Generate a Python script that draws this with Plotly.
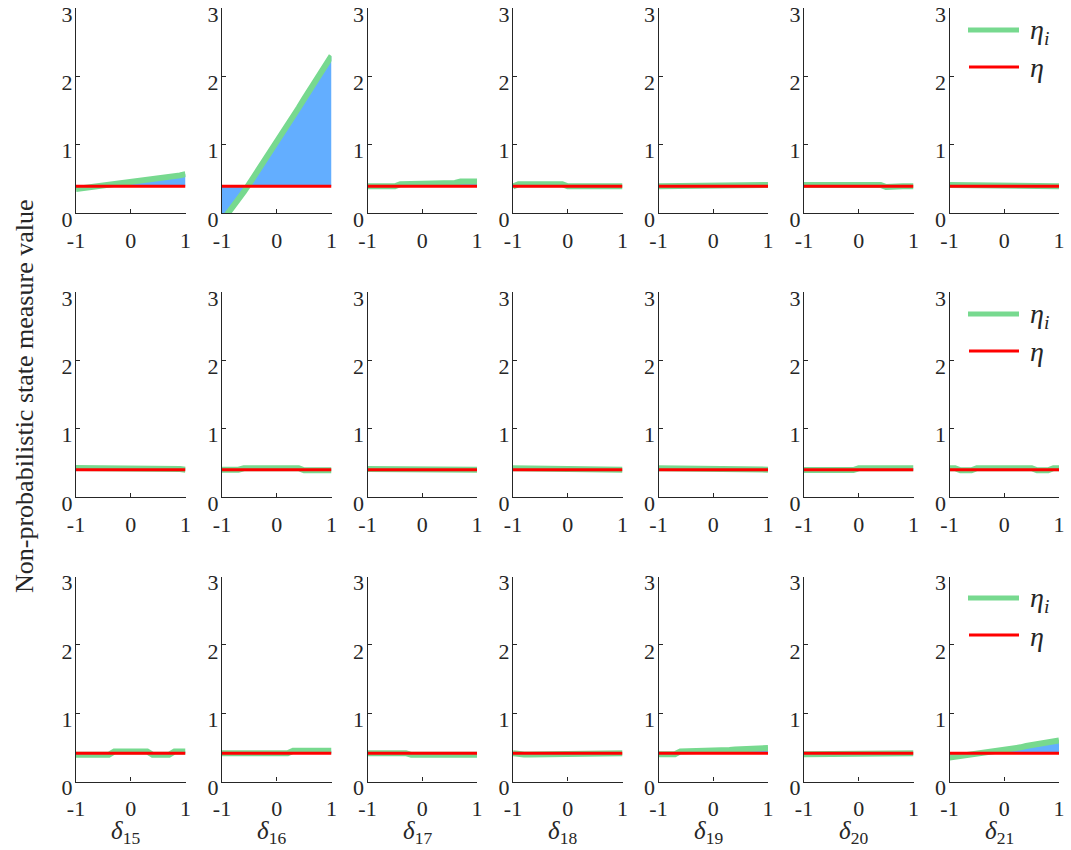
import plotly.graph_objects as go

# ---------------- data ----------------
delta = [-1.0, -0.9, -0.8, -0.7, -0.6, -0.5, -0.4, -0.3, -0.2, -0.1, 0.0,
         0.1, 0.2, 0.3, 0.4, 0.5, 0.6, 0.7, 0.8, 0.9, 1.0]
subscripts = ["15", "16", "17", "18", "19", "20", "21"]
eta_row = [0.39, 0.40, 0.415]
x_tick_vals = [-1, 0, 1]
x_tick_text = ["-1", "0", "1"]
y_tick_vals = [0, 1, 2, 3]

# row 1
r1_d15 = [0.35, 0.36, 0.37, 0.38, 0.39, 0.40, 0.41, 0.42, 0.43, 0.44, 0.45,
          0.45, 0.46, 0.47, 0.48, 0.49, 0.50, 0.51, 0.53, 0.55, 0.57]
r1_d16 = [-0.12, -0.02, 0.08, 0.19, 0.31, 0.43, 0.55, 0.67, 0.79, 0.91, 1.03,
          1.15, 1.28, 1.41, 1.54, 1.67, 1.80, 1.94, 2.08, 2.21, 2.30]
r1_d17 = [0.39, 0.39, 0.39, 0.39, 0.39, 0.39, 0.42, 0.42, 0.42, 0.42, 0.42,
          0.44, 0.44, 0.44, 0.44, 0.44, 0.44, 0.46, 0.46, 0.46, 0.46]
r1_d18 = [0.39, 0.42, 0.42, 0.42, 0.42, 0.42, 0.42, 0.42, 0.42, 0.42, 0.39,
          0.39, 0.39, 0.39, 0.39, 0.39, 0.39, 0.39, 0.39, 0.39, 0.39]
r1_d19 = [0.39, 0.39, 0.39, 0.39, 0.39, 0.39, 0.39, 0.39, 0.39, 0.39, 0.41,
          0.41, 0.41, 0.41, 0.41, 0.41, 0.41, 0.41, 0.41, 0.41, 0.41]
r1_d20 = [0.41, 0.41, 0.41, 0.41, 0.41, 0.41, 0.41, 0.41, 0.41, 0.41, 0.41,
          0.41, 0.41, 0.41, 0.41, 0.38, 0.39, 0.39, 0.39, 0.39, 0.39]
r1_d21 = [0.41, 0.41, 0.41, 0.41, 0.41, 0.41, 0.41, 0.39, 0.39, 0.39, 0.39,
          0.39, 0.39, 0.39, 0.39, 0.41, 0.41, 0.41, 0.39, 0.39, 0.39]

# row 2
r2_d15 = [0.425, 0.425, 0.425, 0.425, 0.425, 0.425, 0.425, 0.425, 0.425, 0.425, 0.425,
          0.425, 0.425, 0.425, 0.425, 0.425, 0.425, 0.425, 0.425, 0.41, 0.40]
r2_d16 = [0.40, 0.40, 0.39, 0.40, 0.42, 0.42, 0.42, 0.42, 0.42, 0.42, 0.42,
          0.42, 0.42, 0.42, 0.42, 0.39, 0.39, 0.39, 0.39, 0.39, 0.39]
r2_d17 = [0.41, 0.41, 0.41, 0.41, 0.41, 0.41, 0.41, 0.41, 0.41, 0.41, 0.41,
          0.41, 0.41, 0.41, 0.41, 0.41, 0.41, 0.39, 0.40, 0.39, 0.40]
r2_d18 = [0.42, 0.42, 0.42, 0.42, 0.42, 0.42, 0.40, 0.40, 0.40, 0.40, 0.40,
          0.40, 0.40, 0.40, 0.40, 0.40, 0.40, 0.40, 0.40, 0.40, 0.40]
r2_d19 = [0.42, 0.42, 0.42, 0.42, 0.42, 0.42, 0.42, 0.42, 0.42, 0.42, 0.42,
          0.42, 0.42, 0.42, 0.42, 0.42, 0.42, 0.42, 0.42, 0.40, 0.40]
r2_d20 = [0.395, 0.395, 0.395, 0.395, 0.395, 0.395, 0.395, 0.395, 0.395, 0.395, 0.42,
          0.42, 0.42, 0.42, 0.42, 0.42, 0.42, 0.42, 0.42, 0.42, 0.42]
r2_d21 = [0.42, 0.42, 0.39, 0.39, 0.39, 0.42, 0.42, 0.42, 0.42, 0.42, 0.42,
          0.42, 0.42, 0.42, 0.42, 0.42, 0.39, 0.39, 0.39, 0.42, 0.42]

# row 3
r3_d15 = [0.39, 0.39, 0.39, 0.39, 0.39, 0.39, 0.39, 0.44, 0.44, 0.44, 0.44,
          0.44, 0.44, 0.44, 0.39, 0.39, 0.39, 0.39, 0.44, 0.44, 0.44]
r3_d16 = [0.415, 0.415, 0.415, 0.415, 0.415, 0.415, 0.415, 0.415, 0.415, 0.415, 0.415,
          0.415, 0.415, 0.45, 0.45, 0.45, 0.45, 0.45, 0.45, 0.45, 0.45]
r3_d17 = [0.415, 0.415, 0.415, 0.415, 0.415, 0.415, 0.415, 0.415, 0.39, 0.39, 0.39,
          0.39, 0.40, 0.40, 0.40, 0.40, 0.40, 0.40, 0.39, 0.39, 0.39]
r3_d18 = [0.415, 0.395, 0.395, 0.395, 0.395, 0.395, 0.395, 0.395, 0.395, 0.395, 0.415,
          0.415, 0.415, 0.415, 0.415, 0.415, 0.415, 0.415, 0.415, 0.415, 0.415]
r3_d19 = [0.40, 0.40, 0.40, 0.40, 0.44, 0.44, 0.44, 0.44, 0.44, 0.44, 0.46,
          0.46, 0.46, 0.46, 0.47, 0.47, 0.47, 0.47, 0.49, 0.49, 0.49]
r3_d20 = [0.40, 0.40, 0.40, 0.40, 0.40, 0.415, 0.415, 0.415, 0.415, 0.415, 0.415,
          0.415, 0.415, 0.415, 0.415, 0.415, 0.415, 0.415, 0.415, 0.415, 0.415]
r3_d21 = [0.35, 0.36, 0.37, 0.38, 0.40, 0.41, 0.42, 0.43, 0.44, 0.46, 0.47,
          0.48, 0.49, 0.50, 0.52, 0.53, 0.54, 0.55, 0.57, 0.58, 0.60]

rows = [
    [r1_d15, r1_d16, r1_d17, r1_d18, r1_d19, r1_d20, r1_d21],
    [r2_d15, r2_d16, r2_d17, r2_d18, r2_d19, r2_d20, r2_d21],
    [r3_d15, r3_d16, r3_d17, r3_d18, r3_d19, r3_d20, r3_d21],
]

# ---------------- style / layout ----------------
W, H = 1071, 850
GREEN = "#77D98F"
RED = "#FF0000"
BLUE = "#63AEFF"
AXC = "#262626"
FONT = "Times New Roman"

col_left = [76, 222, 367.5, 513, 658.5, 804, 949.5]
col_w = 109.5
row_top = [8, 292, 576.5]
row_h = 205

fig = go.Figure()
layout = dict(
    width=W, height=H,
    margin=dict(l=0, r=0, t=0, b=0, pad=0, autoexpand=False),
    paper_bgcolor="white", plot_bgcolor="white",
    showlegend=False,
    font=dict(family=FONT, color=AXC),
)
annotations = []
shapes = []

for r in range(3):
    eta = eta_row[r]
    for c in range(7):
        n = r * 7 + c + 1
        xa = "x" if n == 1 else f"x{n}"
        ya = "y" if n == 1 else f"y{n}"
        vals = rows[r][c]
        # fill between eta_i and eta
        fig.add_trace(go.Scatter(x=[delta[0], delta[-1]], y=[eta, eta], mode="lines",
                                 line=dict(width=0, color=RED), xaxis=xa, yaxis=ya,
                                 hoverinfo="skip"))
        fig.add_trace(go.Scatter(x=delta, y=vals, mode="lines", fill="tonexty",
                                 fillcolor=BLUE, line=dict(width=0, color=BLUE),
                                 xaxis=xa, yaxis=ya, hoverinfo="skip"))
        fig.add_trace(go.Scatter(x=delta, y=vals, mode="lines", name="η_i",
                                 line=dict(width=6, color=GREEN), xaxis=xa, yaxis=ya))
        fig.add_trace(go.Scatter(x=[delta[0], delta[-1]], y=[eta, eta], mode="lines",
                                 name="η", line=dict(width=3, color=RED),
                                 xaxis=xa, yaxis=ya))

        x0 = col_left[c] / W
        x1 = (col_left[c] + col_w) / W
        y1 = (H - row_top[r]) / H
        y0 = (H - row_top[r] - row_h) / H
        xk = "xaxis" if n == 1 else f"xaxis{n}"
        yk = "yaxis" if n == 1 else f"yaxis{n}"
        layout[xk] = dict(domain=[x0, x1], anchor=ya, range=[-1, 1],
                          showline=True, linecolor=AXC, linewidth=1.2,
                          ticks="inside", ticklen=4, tickcolor=AXC, tickwidth=1,
                          tickmode="array", tickvals=x_tick_vals, ticktext=x_tick_text,
                          tickfont=dict(family=FONT, size=22, color=AXC),
                          ticklabelstandoff=7, ticklabeloverflow="allow",
                          showgrid=False, zeroline=False, fixedrange=True)
        layout[yk] = dict(domain=[y0, y1], anchor=xa, range=[0, 3],
                          showline=True, linecolor=AXC, linewidth=1.2,
                          ticks="inside", ticklen=4, tickcolor=AXC, tickwidth=1,
                          tickmode="array", tickvals=y_tick_vals,
                          tickfont=dict(family=FONT, size=22, color=AXC),
                          ticklabelshift=6, ticklabelstandoff=-2,
                          ticklabeloverflow="allow",
                          showgrid=False, zeroline=False, fixedrange=True)

        if r == 2:
            annotations.append(dict(
                text=f"<i>δ</i><sub>{subscripts[c]}</sub>",
                x=(col_left[c] + col_w / 2 - 5) / W, y=(H - 832) / H,
                xref="paper", yref="paper", xanchor="center", yanchor="middle",
                showarrow=False, font=dict(family=FONT, size=25, color=AXC)))

    # legend drawn in the last column of each row
    ly_g = 30 + r * 284
    ly_r = 67 + r * 284
    shapes.append(dict(type="line", xref="paper", yref="paper",
                       x0=968 / W, x1=1019 / W, y0=(H - ly_g) / H, y1=(H - ly_g) / H,
                       line=dict(color=GREEN, width=5)))
    shapes.append(dict(type="line", xref="paper", yref="paper",
                       x0=969 / W, x1=1019 / W, y0=(H - ly_r) / H, y1=(H - ly_r) / H,
                       line=dict(color=RED, width=3)))
    annotations.append(dict(text="<i>η</i><sub><i>i</i></sub>", x=1028 / W, y=(H - ly_g - 1) / H,
                            xref="paper", yref="paper", xanchor="left", yanchor="middle",
                            showarrow=False, font=dict(family=FONT, size=28, color=AXC)))
    annotations.append(dict(text="<i>η</i>", x=1028 / W, y=(H - ly_r - 1) / H,
                            xref="paper", yref="paper", xanchor="left", yanchor="middle",
                            showarrow=False, font=dict(family=FONT, size=28, color=AXC)))

annotations.append(dict(text="Non-probabilistic state measure value",
                        x=24 / W, y=(H - 397) / H, xref="paper", yref="paper",
                        xanchor="center", yanchor="middle", textangle=-90,
                        showarrow=False, font=dict(family=FONT, size=26, color=AXC)))

layout["annotations"] = annotations
layout["shapes"] = shapes
fig.update_layout(**layout)
fig.write_html("out.html", config={"displayModeBar": False},
               post_script="document.body.style.margin='0px';")
